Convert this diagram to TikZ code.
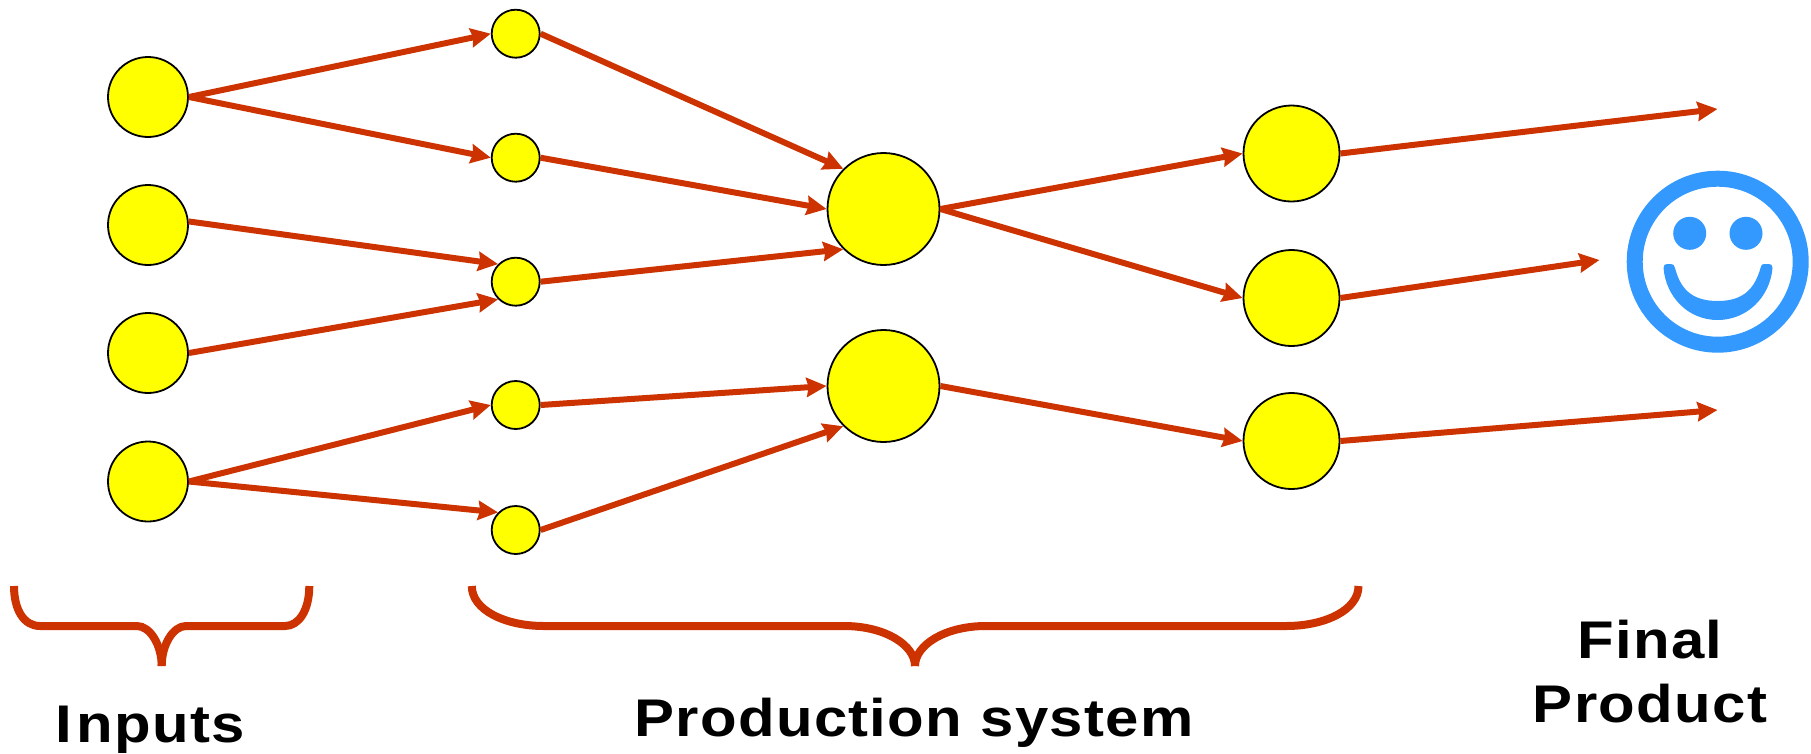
\documentclass[tikz,border=0pt]{standalone}
\usepackage{fontspec}
\setmainfont{Liberation Sans}
\newfontfamily\labelfont[LetterSpace=2.5,FakeStretch=1.13]{Liberation Sans}
\usetikzlibrary{%
    arrows.meta,%
    calc%
}
\definecolor{arrowred}{RGB}{204,51,0}
\definecolor{smileblue}{RGB}{51,153,255}
\definecolor{unityellow}{RGB}{255,255,0}
\tikzset{%
    unit/.style = {circle, draw = black, line width = 1.8pt, fill = unityellow, inner sep = 0pt},
    input/.style = {unit, minimum size = 80pt},
    small/.style = {unit, minimum size = 48pt},
    big/.style = {unit, minimum size = 112pt},
    mid/.style = {unit, minimum size = 96pt},
    flow/.style = {draw = arrowred, line width = 6pt, -{Stealth[length = 20pt, width = 19pt, inset = 2pt]}},
    brace/.style = {draw = arrowred, line width = 8pt},
    caption/.style = {font = \fontsize{53}{64}\selectfont\labelfont\bfseries, inner sep = 0pt, anchor = base, align = center}
}

\begin{document}
\begin{tikzpicture}[x = 1pt, y = -1pt]
    \useasboundingbox (0,0) rectangle (1811,753);
    % Define the units
    \node[input] (in1) at (148,97) {};
    \node[input] (in2) at (148,225) {};
    \node[input] (in3) at (148,353) {};
    \node[input] (in4) at (148,481.5) {};
    \node[small] (s1) at (515.7,33.7) {};
    \node[small] (s2) at (515.7,157.7) {};
    \node[small] (s3) at (515.7,281.7) {};
    \node[small] (s4) at (515.7,405) {};
    \node[small] (s5) at (515.7,530) {};
    \node[big] (b1) at (883.5,209) {};
    \node[big] (b2) at (883.5,386) {};
    \node[mid] (m1) at (1291.5,153.5) {};
    \node[mid] (m2) at (1291.5,298) {};
    \node[mid] (m3) at (1291.5,441) {};
    % Define the free arrow ends
    \coordinate (o1) at (1717.5,109);
    \coordinate (o2) at (1599.5,260);
    \coordinate (o3) at (1717.5,410);

    % Draw the arrows
    \draw[flow] (in1.east) -- (s1.west);
    \draw[flow] (in1.east) -- (s2.west);
    \draw[flow] (in2.5) -- (s3.135);
    \draw[flow] (in3.east) -- (s3.225);
    \draw[flow] (in4.east) -- (s4.west);
    \draw[flow] (in4.east) -- (s5.135);
    \draw[flow] (s1.east) -- (b1.135);
    \draw[flow] (s2.east) -- (b1.west);
    \draw[flow] (s3.east) -- (b1.225);
    \draw[flow] (s4.east) -- (b2.west);
    \draw[flow] (s5.east) -- (b2.225);
    \draw[flow] (b1.east) -- (m1.west);
    \draw[flow] (b1.east) -- (m2.west);
    \draw[flow] (b2.east) -- (m3.west);
    \draw[flow] (m1.east) -- (o1);
    \draw[flow] (m2.east) -- (o2);
    \draw[flow] (m3.east) -- (o3);

    % Draw the braces
    \draw[brace] (14,586) .. controls (14,610) and (24,626) .. (40,626) -- (137,626) .. controls (150,626) and (161.7,645) .. (161.7,666);
    \draw[brace] (309.3,586) .. controls (309.3,610) and (299,626) .. (285,626) -- (186,626) .. controls (173,626) and (161.7,645) .. (161.7,666);
    \draw[brace] (471.8,586) .. controls (471.8,610) and (505,626) .. (544,626) -- (844,626) .. controls (885,626) and (915,645) .. (915,666);
    \draw[brace] (1358.5,586) .. controls (1358.5,610) and (1325,626) .. (1286,626) -- (986,626) .. controls (945,626) and (915,645) .. (915,666);

    % Draw the smiley
    \draw[smileblue, line width = 16pt] (1717.7,261.7) circle (83);
    \fill[smileblue] (1689.7,233.3) circle (16.5);
    \fill[smileblue] (1746,233.3) circle (16.5);
    \fill[smileblue] (1663.5,268) .. controls (1666,297) and (1688,320) .. (1717.7,320) .. controls (1747,320) and (1770,297) .. (1772.5,268)
        .. controls (1772.5,265) and (1771,264) .. (1769,264) -- (1764,264) .. controls (1762,264) and (1761,265) .. (1760.5,268)
        .. controls (1755,287) and (1745,301) .. (1717.7,301) .. controls (1690,301) and (1680,287) .. (1675,268)
        .. controls (1674.5,265) and (1673,264) .. (1671,264) -- (1667,264) .. controls (1665,264) and (1663.5,265) .. cycle;

    % Draw the labels
    \node[caption] (inputs) at (150,742) {I\kern5pt nputs};
    \node[caption] (production) at (914,736.7) {Production system};
    \node[caption] (final) at (1650,722) {Final\\Product};
\end{tikzpicture}
\end{document}
